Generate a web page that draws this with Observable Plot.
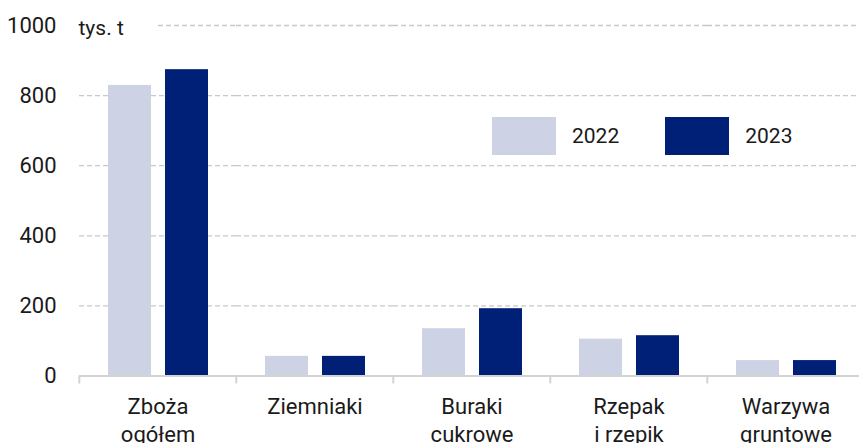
<!DOCTYPE html>
<html>
<head>
<meta charset="utf-8">
<script src="https://cdn.jsdelivr.net/npm/d3@7"></script>
<script src="https://cdn.jsdelivr.net/npm/@observablehq/plot@0.6"></script>
<style>
  html, body { margin: 0; padding: 0; background: #fff; overflow: hidden; }
  #wrap { position: relative; width: 859px; height: 443px; font-family: Roboto, "Noto Sans", sans-serif; }
  .legend { position: absolute; top: 117px; left: 492px; display: flex; align-items: center; font-size: 21px; color: #1a1a1a; }
  .sw { width: 64px; height: 38px; display: inline-block; }
  .lab { margin-left: 16px; margin-right: 46px; }
</style>
</head>
<body>
<div id="wrap"></div>
<script>
const categories = ["Zboża ogółem", "Ziemniaki", "Buraki cukrowe", "Rzepak i rzepik", "Warzywa gruntowe"];
const years = ["2022", "2023"];
const values2022 = [829, 56, 135, 105, 44];
const values2023 = [874, 56, 192, 115, 44];
const yTicks = [0, 200, 400, 600, 800, 1000];
const colors = ["#cdd2e5", "#001f77"];
const unitLabel = "tys. t";

const data = categories.flatMap((c, i) => [
  {category: c, year: years[0], value: values2022[i]},
  {category: c, year: years[1], value: values2023[i]}
]);

const gridStyle = {stroke: "#c8c8c8", strokeWidth: 1.3, strokeDasharray: "5,3"};

const chart = Plot.plot({
  width: 859,
  height: 443,
  marginLeft: 78,
  marginRight: -6,
  marginTop: 25,
  marginBottom: 67.5,
  style: {fontFamily: "Roboto, 'Noto Sans', sans-serif", fontSize: "22px", color: "#1a1a1a", background: "#fff"},
  fx: {domain: categories, padding: 0, axis: null},
  x: {domain: years, paddingInner: 0.25, paddingOuter: 0.5, axis: null},
  y: {domain: [0, 1000], axis: null},
  color: {domain: years, range: colors},
  marks: [
    Plot.ruleY(yTicks.filter(t => t > 0 && t < 1000), gridStyle),
    Plot.ruleY(categories.slice(1), {fx: d => d, y: () => yTicks[yTicks.length - 1], ...gridStyle}),
    Plot.ruleY(categories.slice(0, 1), {fx: d => d, y: () => yTicks[yTicks.length - 1], ...gridStyle, insetLeft: 79}),
    Plot.barY(data, {fx: "category", x: "year", y: "value", fill: "year"}),
    Plot.ruleY([0], {stroke: "#d3d3d3", strokeWidth: 2}),
    Plot.axisFx({anchor: "bottom", tickSize: 8, tickFormat: () => "", label: null, stroke: "#d3d3d3", strokeWidth: 2, dx: -78.7}),
    Plot.axisFx({anchor: "bottom", tickSize: 0, tickPadding: 18, label: null, fontSize: 22, lineHeight: 1.27, fill: "#1a1a1a",
      tickFormat: d => d.replace(" ", "\n")}),
    Plot.axisY(yTicks, {anchor: "left", tickSize: 0, tickPadding: 23, label: null, fontSize: 22, fill: "#1a1a1a", tickFormat: d => String(d)}),
    Plot.text([unitLabel], {fx: () => categories[0], frameAnchor: "top-left", textAnchor: "start", dx: -1, dy: -5, fontSize: 21, fill: "#1a1a1a"})
  ]
});

const wrap = document.getElementById("wrap");
wrap.appendChild(chart);

const legend = document.createElement("div");
legend.className = "legend";
years.forEach((y, i) => {
  const sw = document.createElement("span");
  sw.className = "sw";
  sw.style.background = colors[i];
  const lab = document.createElement("span");
  lab.className = "lab";
  lab.textContent = y;
  legend.appendChild(sw);
  legend.appendChild(lab);
});
wrap.appendChild(legend);
</script>
</body>
</html>
